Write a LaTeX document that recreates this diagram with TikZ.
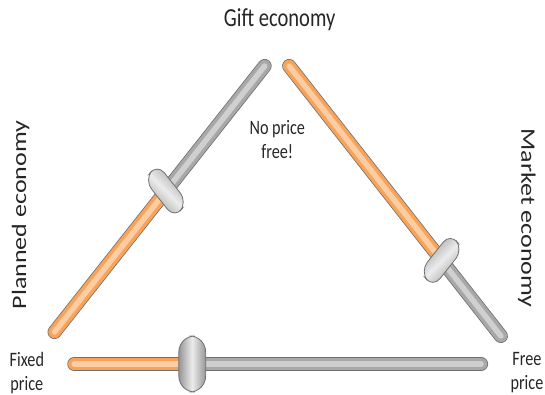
\documentclass[tikz,border=0pt]{standalone}
\usepackage{fontspec}
\setmainfont{Carlito}
\usetikzlibrary{calc}
\definecolor{SliderOrange}{RGB}{249,163,88}
\definecolor{SliderGray}{RGB}{168,168,168}
\definecolor{SliderEdge}{RGB}{112,112,112}
\definecolor{KnobDark}{RGB}{150,150,150}
\definecolor{KnobLight}{RGB}{236,236,236}
\definecolor{LabelText}{RGB}{38,38,38}

\begin{document}
\begin{tikzpicture}[x=1pt,y=-1pt,xscale=.79,transform shape,
    track/.style={line width=14pt,line cap=round,draw=SliderEdge},
    knob/.style={rectangle,rounded corners=11.5pt,draw=SliderEdge,line width=.8pt,
      shading=axis,top color=KnobDark,bottom color=KnobDark,middle color=KnobLight,
      minimum width=54pt,minimum height=23pt,inner sep=0pt},
    bigtext/.style={text=LabelText,font=\fontsize{26}{31}\selectfont},
    smalltext/.style={text=LabelText,align=center,font=\fontsize{20.5}{24}\selectfont}]
  \useasboundingbox (0,0) rectangle (689.87,395);
  % slider ends and knob positions
  \coordinate (pl-end) at (69,332);
  \coordinate (pl-top) at (335,66);
  \coordinate (mk-top) at (366,66);
  \coordinate (mk-end) at (634,336);
  \coordinate (fx-end) at (94,364);
  \coordinate (fr-end) at (609,364);
  \coordinate (kp) at ($(pl-end)!.53!(pl-top)$);
  \coordinate (km) at ($(mk-top)!.72!(mk-end)$);
  \coordinate (kb) at ($(fx-end)!.29!(fr-end)$);
  % tracks
  \foreach \a/\b/\c in {pl-end/kp/SliderOrange,kp/pl-top/SliderGray,
      mk-top/km/SliderOrange,km/mk-end/SliderGray,
      fx-end/kb/SliderOrange,kb/fr-end/SliderGray}{
    \draw[track] (\a) -- (\b);
    \draw[track,line width=12.4pt,draw=\c] (\a) -- (\b);
    \draw[track,line width=5.5pt,draw=\c!55!white] (\a) -- (\b);
  }
  % knobs
  \node[knob,rotate=-45,shading angle=-45] (knob-plan) at (kp) {};
  \node[knob,rotate=45,shading angle=45] (knob-market) at (km) {};
  \node[knob,minimum width=34pt,minimum height=56pt,rounded corners=16pt,
    left color=KnobDark,right color=KnobDark,middle color=KnobLight] (knob-price) at (kb) {};
  % labels
  \node[bigtext,anchor=base] (gift) at (354,27) {Gift economy};
  \node[bigtext,rotate=90] (planned) at (26,215) {Planned economy};
  \node[bigtext,rotate=-90] (market) at (667,218) {Market economy};
  \node[smalltext] (fixed) at (34,373) {Fixed\\price};
  \node[smalltext] (free) at (667,373) {Free\\price};
  \node[smalltext] (noprice) at (351,140) {No price\\free!};
\end{tikzpicture}
\end{document}
